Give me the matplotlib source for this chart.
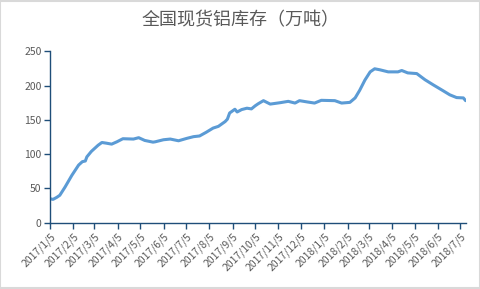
import matplotlib
matplotlib.use("Agg")
import matplotlib.pyplot as plt
import matplotlib.dates as mdates
import pandas as pd

plt.rcParams['font.family'] = ['Noto Sans CJK SC', 'DejaVu Sans']

dates = ["2017-01-05", "2017-01-09", "2017-01-14", "2017-01-18", "2017-01-25",
         "2017-02-03", "2017-02-12", "2017-02-17", "2017-02-21", "2017-02-23",
         "2017-03-01", "2017-03-10", "2017-03-15", "2017-03-21", "2017-03-28",
         "2017-04-04", "2017-04-12", "2017-04-26", "2017-05-03", "2017-05-11",
         "2017-05-22", "2017-05-25", "2017-06-05", "2017-06-14", "2017-06-25",
         "2017-07-06", "2017-07-15", "2017-07-23", "2017-08-01", "2017-08-10",
         "2017-08-17", "2017-08-26", "2017-08-29", "2017-09-01", "2017-09-08",
         "2017-09-11", "2017-09-17", "2017-09-24", "2017-09-30", "2017-10-05",
         "2017-10-09", "2017-10-16", "2017-10-25", "2017-11-07", "2017-11-18",
         "2017-11-27", "2017-12-03", "2017-12-14", "2017-12-23", "2018-01-01",
         "2018-01-19", "2018-01-28", "2018-02-08", "2018-02-15", "2018-02-21",
         "2018-02-28", "2018-03-07", "2018-03-13", "2018-03-20", "2018-03-31",
         "2018-04-13", "2018-04-18", "2018-04-26", "2018-05-08", "2018-05-19",
         "2018-05-30", "2018-06-12", "2018-06-21", "2018-06-30", "2018-07-09",
         "2018-07-12"]
values = [35, 34, 37, 40, 52,
          69, 84, 89, 90, 96,
          104, 113, 117, 116, 114.6,
          118, 122.5, 122, 124, 120,
          117.5, 118, 121, 122, 119.5,
          123, 125.5, 126.5, 132, 138,
          140.5, 147.5, 151, 160, 165.5,
          161.5, 165, 167, 166, 170.5,
          173.5, 178, 173, 175, 177,
          174.5, 178, 176, 174.5, 178.5,
          178, 174.5, 175.5, 182, 193,
          208, 220, 224.5, 223, 220,
          220, 222, 218.5, 217.5, 208.5,
          201, 192.5, 186.5, 182.5, 182,
          178]
tick_dates = ["2017-01-05", "2017-02-05", "2017-03-05", "2017-04-05", "2017-05-05",
              "2017-06-05", "2017-07-05", "2017-08-05", "2017-09-05", "2017-10-05",
              "2017-11-05", "2017-12-05", "2018-01-05", "2018-02-05", "2018-03-05",
              "2018-04-05", "2018-05-05", "2018-06-05", "2018-07-05"]
tick_labels = ["2017/1/5", "2017/2/5", "2017/3/5", "2017/4/5", "2017/5/5",
               "2017/6/5", "2017/7/5", "2017/8/5", "2017/9/5", "2017/10/5",
               "2017/11/5", "2017/12/5", "2018/1/5", "2018/2/5", "2018/3/5",
               "2018/4/5", "2018/5/5", "2018/6/5", "2018/7/5"]
title = "全国现货铝库存（万吨）"

x = pd.to_datetime(dates)
fig = plt.figure(figsize=(4.81, 2.89), dpi=100)
ax = fig.add_axes([0.104, 0.2294, 0.864, 0.5931])
ax.plot(x, values, color='#5B9BD5', lw=2.2, solid_capstyle='round')

ax.set_ylim(0, 250)
ax.set_yticks([0, 50, 100, 150, 200, 250])
ax.set_xlim(pd.Timestamp("2017-01-05"), pd.Timestamp("2018-07-12"))
ax.set_xticks(pd.to_datetime(tick_dates))
ax.set_xticklabels(tick_labels, rotation=45, ha='right', rotation_mode='anchor')

for s in ['top', 'right']:
    ax.spines[s].set_visible(False)
for s in ['left', 'bottom']:
    ax.spines[s].set_color('#1F4E79')
    ax.spines[s].set_linewidth(1.0)
ax.tick_params(axis='both', colors='#1F4E79', length=4, width=1.0,
               labelsize=7.5, labelcolor='#595959', pad=2)

fig.text(0.5, 0.93, title, ha='center', va='center', fontsize=13, color='#595959')

border = plt.Rectangle((0.001, 0.002), 0.997, 0.995, transform=fig.transFigure,
                       fill=False, edgecolor='#D9D9D9', lw=1.5)
fig.patches.append(border)

fig.savefig("out.png", dpi=100)
